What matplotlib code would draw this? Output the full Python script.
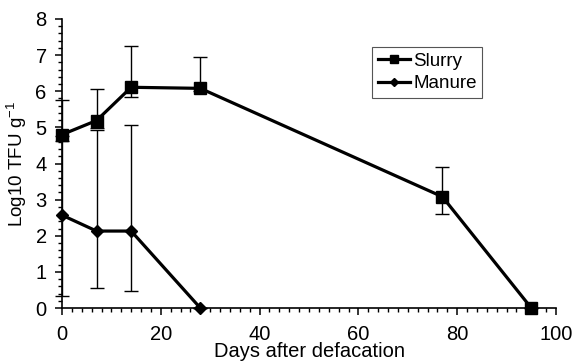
import matplotlib
matplotlib.use("Agg")
import matplotlib.pyplot as plt
from matplotlib.ticker import MultipleLocator
import numpy as np

plt.rcParams['font.family'] = ['Liberation Sans', 'DejaVu Sans']

slurry_days = [0, 7, 14, 28, 77, 95]
slurry_vals = [4.80, 5.19, 6.11, 6.08, 3.08, 0.0]
slurry_upper = [5.77, 6.06, 7.26, 6.96, 3.89, 0.0]
slurry_lower = [4.61, 4.98, 5.83, 6.00, 2.60, 0.0]

manure_days = [0, 7, 14, 28]
manure_vals = [2.57, 2.13, 2.13, 0.0]
manure_upper = [4.75, 4.93, 5.07, 0.0]
manure_lower = [0.34, 0.56, 0.47, 0.0]

fig = plt.figure(figsize=(5.73, 3.62), dpi=100)
ax = fig.add_axes([62/573, 1-308/362, (556-62)/573, (308-19)/362])

def draw(days, vals, up, lo, marker, ms, label):
    vals = np.array(vals); up = np.array(up); lo = np.array(lo)
    yerr = np.vstack([vals - lo, up - vals])
    ax.errorbar(days, vals, yerr=yerr, fmt='none', ecolor='black',
                elinewidth=1.0, capsize=5, capthick=1.0, clip_on=False, zorder=2)
    ax.plot(days, vals, color='black', lw=2.3, marker=marker, ms=ms,
            mfc='black', mec='black', label=label, clip_on=False, zorder=3)

draw(slurry_days, slurry_vals, slurry_upper, slurry_lower, 's', 8, 'Slurry')
draw(manure_days, manure_vals, manure_upper, manure_lower, 'D', 6.5, 'Manure')

ax.set_xlim(0, 100)
ax.set_ylim(0, 8)
ax.xaxis.set_major_locator(MultipleLocator(20))
ax.xaxis.set_minor_locator(MultipleLocator(2))
ax.yaxis.set_major_locator(MultipleLocator(1))
ax.yaxis.set_minor_locator(MultipleLocator(0.2))
for s in ['top', 'right']:
    ax.spines[s].set_visible(False)
for s in ['left', 'bottom']:
    ax.spines[s].set_linewidth(1.2)
ax.tick_params(which='major', direction='out', length=5, width=1.1, labelsize=14.5, colors='black')
ax.tick_params(which='minor', direction='out', length=3, width=1.0)
ax.tick_params(axis='x', which='major', pad=7)
ax.tick_params(axis='y', which='major', pad=6)

ax.set_xlabel('Days after defacation', fontsize=14.5, labelpad=-1)
ax.set_ylabel('Log10 TFU g$^{\\mathregular{-1}}$', fontsize=13.5, labelpad=5)

leg = ax.legend(loc='upper left', bbox_to_anchor=(372/573, 1-47/362),
                bbox_transform=fig.transFigure, fontsize=13.5, frameon=True,
                fancybox=False, edgecolor='#555555', framealpha=1,
                borderaxespad=0, handlelength=1.7, handletextpad=0.2,
                borderpad=0.3, labelspacing=0.3, markerscale=0.65)
leg.get_frame().set_linewidth(0.8)

fig.savefig('out.png', dpi=100)
